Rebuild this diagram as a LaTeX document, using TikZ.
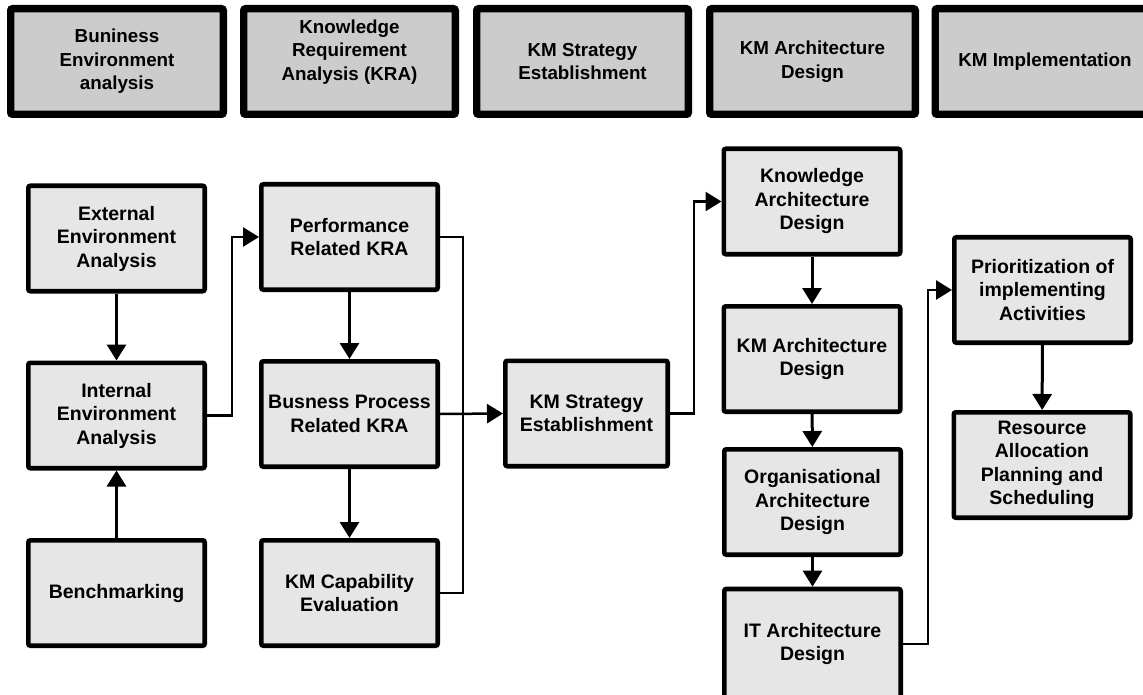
\documentclass[tikz,border=0pt]{standalone}
\usepackage{fontspec}
\setmainfont{Liberation Sans}
\usetikzlibrary{arrows.meta}
\definecolor{phasefill}{HTML}{CCCCCC}
\definecolor{stepfill}{HTML}{E6E6E6}
\tikzset{
  phasebox/.style={draw, line width=7.3pt, fill=phasefill, rounded corners=2pt,
    minimum width=#1, minimum height=105.7pt, inner sep=2pt, align=center,
    font=\bfseries\fontsize{18.8}{23.5}\selectfont},
  phasebox/.default=212.7pt,
  stepbox/.style={draw, line width=4.7pt, fill=stepfill, rounded corners=2pt,
    minimum width=#1, minimum height=105.3pt, inner sep=2pt, align=center,
    font=\bfseries\fontsize{19.5}{23.5}\selectfont},
  stepbox/.default=176.3pt,
  flow/.style={line width=3pt, -{Triangle[length=16pt,width=19pt]}},
  link/.style={line width=2.5pt},
  linkarrow/.style={line width=2.5pt, -{Triangle[length=16pt,width=19pt]}}
}
\begin{document}
\begin{tikzpicture}[x=1pt, y=-1pt]
\useasboundingbox (0,0) rectangle (1143,695);

% phase headers
\node[phasebox] (p1) at (117,61.5) {Buniness\\Environment\\analysis};
\node[phasebox=211.7pt] (p2) at (349.5,61.5) {Knowledge\\Requirement\\Analysis (KRA)\\\mbox{}};
\node[phasebox=211.7pt] (p3) at (582.5,61.5) {KM Strategy\\Establishment};
\node[phasebox=205.7pt] (p4) at (812.5,61.5) {KM Architecture\\Design};
\node[phasebox=219.7pt] (p5) at (1045,61.5) {KM Implementation};

% business environment analysis
\node[stepbox] (ext) at (116.5,238.5) {External\\Environment\\Analysis};
\node[stepbox] (int) at (116.5,415.5) {Internal\\Environment\\Analysis};
\node[stepbox] (bench) at (116.5,593) {Benchmarking};

% knowledge requirement analysis
\node[stepbox] (perf) at (349.5,237) {Performance\\Related KRA};
\node[stepbox] (bus) at (349.5,414) {Busness Process\\Related KRA};
\node[stepbox] (cap) at (349.5,593) {KM Capability\\Evaluation};

% strategy
\node[stepbox=162.3pt] (strat) at (586.5,413.5) {KM Strategy\\Establishment};

% architecture design
\node[stepbox] (know) at (812,201.5) {Knowledge\\Architecture\\Design};
\node[stepbox] (kmarch) at (812,359) {KM Architecture\\Design};
\node[stepbox] (org) at (812.5,502) {Organisational\\Architecture\\Design};
\node[stepbox, minimum height=110pt] (it) at (812.5,644) {IT Architecture\\Design};

% implementation
\node[stepbox] (prio) at (1042.5,290) {Prioritization of\\implementing\\Activities};
\node[stepbox] (res) at (1042,465) {Resource\\Allocation\\Planning and\\Scheduling};

% connectors
\draw[flow] (ext) -- (int);
\draw[flow] (bench) -- (int);
\draw[linkarrow] (int.east) -- ++(25,0) |- (perf.west);
\draw[flow] (perf) -- (bus);
\draw[flow] (bus) -- (cap);
\draw[link] (perf.east) -- ++(23,0) |- (cap.east);
\draw[linkarrow] (bus.east) -- (strat.west);
\draw[linkarrow] (strat.east) -- ++(24,0) |- (know.west);
\draw[flow] (know) -- (kmarch);
\draw[flow] (kmarch) -- (org);
\draw[flow] (org) -- (it);
\draw[linkarrow] (it.east) -- ++(25,0) |- (prio.west);
\draw[flow] (prio) -- (res);
\end{tikzpicture}
\end{document}
